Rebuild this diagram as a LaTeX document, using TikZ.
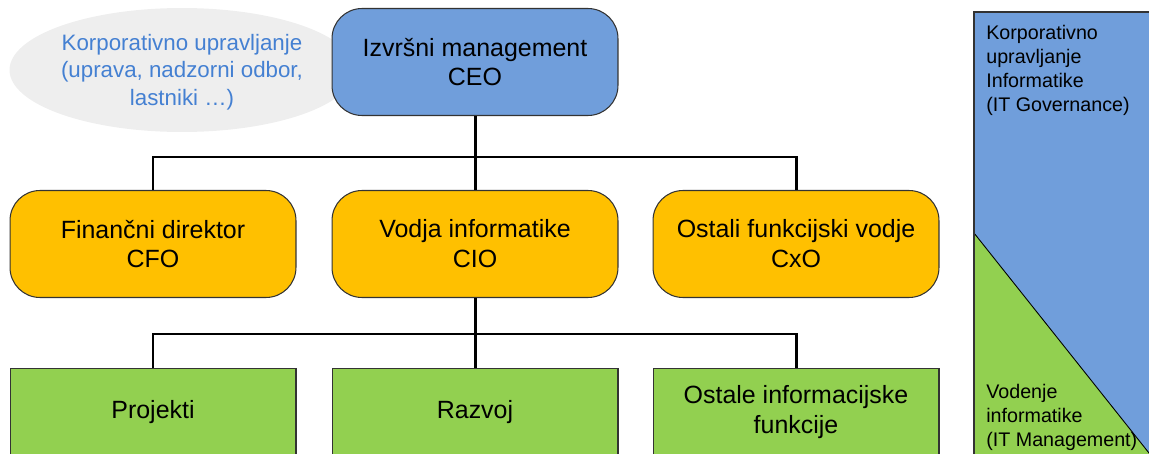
\documentclass[tikz,border=0pt]{standalone}
\usepackage{fontspec}
\setmainfont{Liberation Sans}
\usetikzlibrary{shapes.geometric}

\definecolor{ceoblue}{RGB}{112,158,219}
\definecolor{cxoyellow}{RGB}{255,192,0}
\definecolor{itgreen}{RGB}{146,208,80}
\definecolor{govgray}{RGB}{238,238,238}
\definecolor{govtext}{RGB}{68,128,210}

\tikzset{
    chief/.style={draw=black!80, line width=0.6pt, rounded corners=0.6cm, align=center,
        minimum width=5.72cm, minimum height=2.14cm, font=\fontsize{14.2}{17}\selectfont},
    unit/.style={draw=black!80, line width=0.6pt, fill=itgreen, align=center,
        minimum width=5.72cm, minimum height=1.74cm, font=\fontsize{14.2}{17}\selectfont},
    link/.style={line width=1.7pt},
    paneltext/.style={inner sep=0pt, align=left, font=\fontsize{11.2}{13.6}\selectfont}
}

\begin{document}
\begin{tikzpicture}[x=0.02cm, y=-0.02cm]
    \clip (0,0) rectangle (1149,453);

    \node[ellipse, fill=govgray, minimum width=6.9cm, minimum height=2.48cm] (gov) at (182,70) {};
    \node[align=center, text=govtext, font=\fontsize{12.7}{15.6}\selectfont] (govlabel) at (182,72)
        {Korporativno upravljanje\\(uprava, nadzorni odbor,\\lastniki \dots)};

    \node[chief, fill=ceoblue] (ceo) at (475,62) {Izvršni management\\CEO};

    \node[chief, fill=cxoyellow] (cfo) at (153,244) {Finančni direktor\\CFO};
    \node[chief, fill=cxoyellow] (cio) at (475,244) {Vodja informatike\\CIO};
    \node[chief, fill=cxoyellow] (cxo) at (796,244) {Ostali funkcijski vodje\\CxO};

    \node[unit] (proj) at (153,412) {Projekti};
    \node[unit] (razvoj) at (475,412) {Razvoj};
    \node[unit] (ostale) at (796,412) {Ostale informacijske\\funkcije};

    \coordinate (bustop) at (475,157);
    \coordinate (busbottom) at (475,334);
    \draw[link] (ceo.south) -- (cio.north);
    \draw[link] (cfo.north) |- (bustop) -| (cxo.north);
    \draw[link] (cio.south) -- (razvoj.north);
    \draw[link] (proj.north) |- (busbottom) -| (ostale.north);

    % governance / management panel
    \fill[ceoblue] (974,12) rectangle (1170,470);
    \fill[itgreen] (974,233) -- (974,470) -- (1162.5,470) -- cycle;
    \draw[line width=0.5pt] (974,233) -- (1162.5,470);
    \draw[line width=0.6pt, black!80] (974,470) -- (974,12) -- (1170,12);
    \node[paneltext, anchor=north west] (govtitle) at (986,25)
        {Korporativno\\upravljanje\\Informatike\\(IT Governance)};
    \node[paneltext, anchor=south west] (mgmttitle) at (986,451)
        {Vodenje\\informatike\\(IT Management)};
\end{tikzpicture}
\end{document}
